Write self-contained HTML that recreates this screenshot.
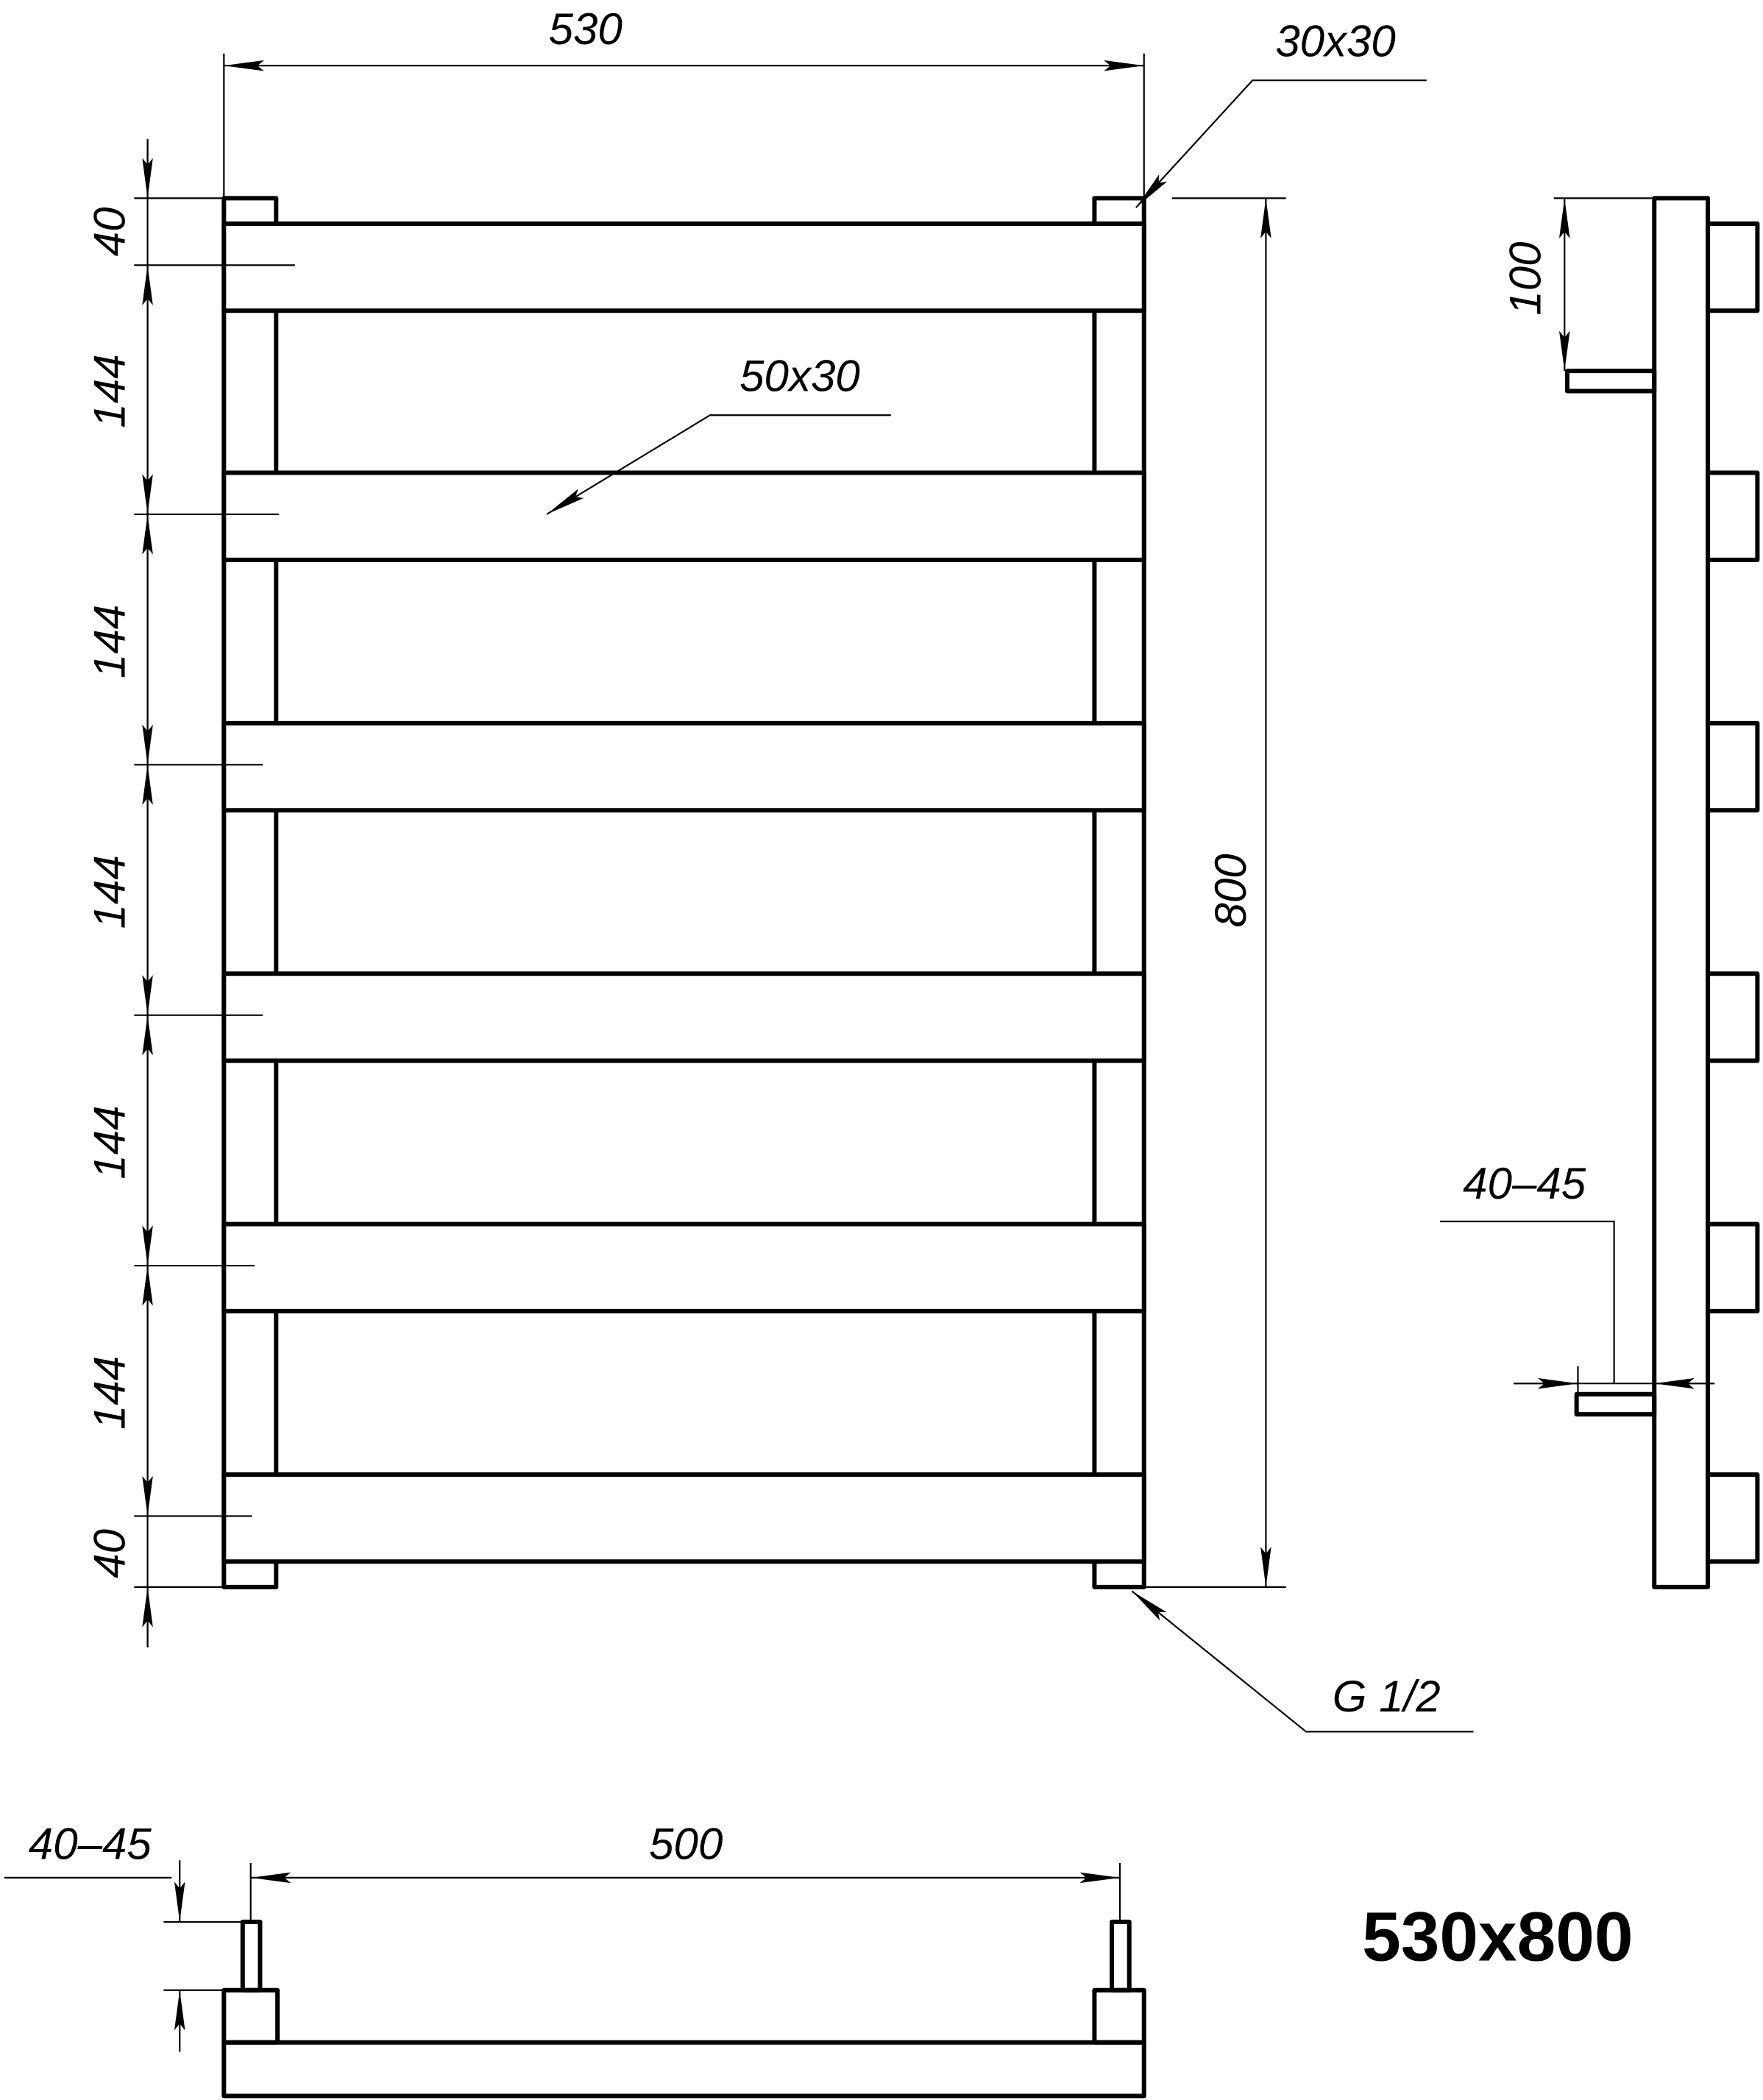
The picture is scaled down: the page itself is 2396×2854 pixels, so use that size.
<!DOCTYPE html>
<html><head><meta charset="utf-8"><style>html,body{margin:0;padding:0;background:#fff}svg{display:block}</style></head>
<body>
<svg width="2396" height="2854" viewBox="0 0 1316 1568" xmlns="http://www.w3.org/2000/svg">
<defs>
<marker id="a" viewBox="0 0 30 8" refX="30" refY="4" markerWidth="30" markerHeight="8" markerUnits="userSpaceOnUse" orient="auto-start-reverse"><path d="M0,0 L30,4 L0,8 L5,4 z" fill="#000"/></marker>
</defs>
<g fill="none" stroke="#000" stroke-width="3.3" stroke-linejoin="round">
<rect x="167" y="148" width="39" height="1037"/>
<rect x="817" y="148" width="37" height="1037"/>
<g fill="#fff">
<rect x="167" y="167" width="687" height="65"/>
<rect x="167" y="353" width="687" height="65"/>
<rect x="167" y="540" width="687" height="65"/>
<rect x="167" y="727" width="687" height="65"/>
<rect x="167" y="914" width="687" height="65"/>
<rect x="167" y="1101" width="687" height="65"/>
</g>
<rect x="1235" y="148" width="40" height="1037"/>
<rect x="1275" y="167" width="37" height="65"/>
<rect x="1275" y="353" width="37" height="65"/>
<rect x="1275" y="540" width="37" height="65"/>
<rect x="1275" y="727" width="37" height="65"/>
<rect x="1275" y="914" width="37" height="65"/>
<rect x="1275" y="1101" width="37" height="65"/>
<rect x="1170" y="277" width="65" height="15"/>
<rect x="1177" y="1041" width="58" height="15"/>
<rect x="167" y="1525" width="687" height="40"/>
<rect x="167" y="1486" width="40" height="39"/>
<rect x="817" y="1486" width="37" height="39"/>
<rect x="181" y="1435" width="13" height="51"/>
<rect x="830" y="1435" width="13" height="51"/>
</g>
<g fill="none" stroke="#000" stroke-width="1.2">
<line x1="167" y1="40" x2="167" y2="148"/><line x1="854" y1="40" x2="854" y2="148"/>
<line x1="167" y1="49" x2="854" y2="49" marker-start="url(#a)" marker-end="url(#a)"/>
<polyline points="1065,60 935,60 848,155" marker-end="url(#a)"/>
<polyline points="665,310 530,310 408,384" marker-end="url(#a)"/>
<line x1="875" y1="148" x2="960" y2="148"/><line x1="854" y1="1185" x2="960" y2="1185"/>
<line x1="945" y1="148" x2="945" y2="1185" marker-start="url(#a)" marker-end="url(#a)"/>
<polyline points="1100,1293 975,1293 845,1188" marker-end="url(#a)"/>
<line x1="100" y1="148" x2="167" y2="148"/>
<line x1="100" y1="198" x2="220" y2="198"/>
<line x1="100" y1="384" x2="208" y2="384"/>
<line x1="100" y1="571" x2="196" y2="571"/>
<line x1="100" y1="758" x2="196" y2="758"/>
<line x1="100" y1="945" x2="190" y2="945"/>
<line x1="100" y1="1132" x2="188" y2="1132"/>
<line x1="100" y1="1185" x2="167" y2="1185"/>
<line x1="110" y1="104" x2="110" y2="1230"/>
<line x1="110" y1="104" x2="110" y2="148" marker-end="url(#a)"/>
<line x1="110" y1="198" x2="110" y2="384" marker-start="url(#a)" marker-end="url(#a)"/>
<line x1="110" y1="384" x2="110" y2="571" marker-start="url(#a)" marker-end="url(#a)"/>
<line x1="110" y1="571" x2="110" y2="758" marker-start="url(#a)" marker-end="url(#a)"/>
<line x1="110" y1="758" x2="110" y2="945" marker-start="url(#a)" marker-end="url(#a)"/>
<line x1="110" y1="945" x2="110" y2="1132" marker-start="url(#a)" marker-end="url(#a)"/>
<line x1="110" y1="1230" x2="110" y2="1185" marker-end="url(#a)"/>
<line x1="1160" y1="148" x2="1235" y2="148"/>
<line x1="1168" y1="148" x2="1168" y2="277" marker-start="url(#a)" marker-end="url(#a)"/>
<polyline points="1075,912 1205,912 1205,1033"/>
<line x1="1130" y1="1033" x2="1280" y2="1033"/>
<line x1="1130" y1="1033" x2="1178" y2="1033" marker-end="url(#a)"/>
<line x1="1280" y1="1033" x2="1235" y2="1033" marker-end="url(#a)"/>
<line x1="1178" y1="1020" x2="1178" y2="1041"/>
<line x1="187" y1="1391" x2="187" y2="1434"/><line x1="836" y1="1391" x2="836" y2="1434"/>
<line x1="187" y1="1402" x2="836" y2="1402" marker-start="url(#a)" marker-end="url(#a)"/>
<line x1="3" y1="1402" x2="128" y2="1402"/>
<line x1="122" y1="1435" x2="181" y2="1435"/><line x1="122" y1="1486" x2="167" y2="1486"/>
<line x1="134" y1="1389" x2="134" y2="1435" marker-end="url(#a)"/>
<line x1="134" y1="1532" x2="134" y2="1486" marker-end="url(#a)"/>
</g>
<g font-family="Liberation Sans, sans-serif" font-style="italic" font-size="33" fill="#000" text-anchor="middle">
<text x="437" y="33">530</text>
<text x="997" y="42">30x30</text>
<text x="597" y="292">50x30</text>
<text x="1035" y="1278">G 1/2</text>
<text x="1138" y="895">40–45</text>
<text x="512" y="1388">500</text>
<text x="67" y="1388">40–45</text>
<text transform="translate(930,665) rotate(-90)">800</text>
<text transform="translate(93,173) rotate(-90)">40</text>
<text transform="translate(93,292) rotate(-90)">144</text>
<text transform="translate(93,479) rotate(-90)">144</text>
<text transform="translate(93,666) rotate(-90)">144</text>
<text transform="translate(93,853) rotate(-90)">144</text>
<text transform="translate(93,1040) rotate(-90)">144</text>
<text transform="translate(93,1160) rotate(-90)">40</text>
<text transform="translate(1150,208) rotate(-90)">100</text>
</g>
<text x="1118" y="1464" font-family="Liberation Sans, sans-serif" font-weight="bold" font-size="52" text-anchor="middle">530x800</text>
</svg>
</body></html>
